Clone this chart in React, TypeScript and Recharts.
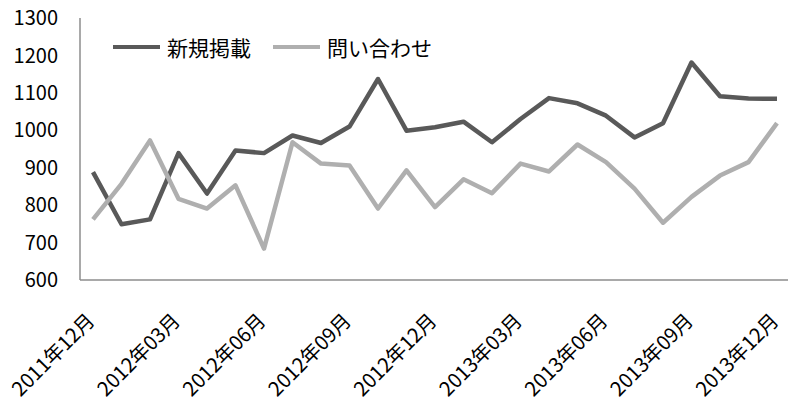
import React from 'react';
import { LineChart, Line, XAxis, YAxis, Legend } from 'recharts';

const months = [
  '2011年12月', '2012年01月', '2012年02月', '2012年03月', '2012年04月', '2012年05月',
  '2012年06月', '2012年07月', '2012年08月', '2012年09月', '2012年10月', '2012年11月',
  '2012年12月', '2013年01月', '2013年02月', '2013年03月', '2013年04月', '2013年05月',
  '2013年06月', '2013年07月', '2013年08月', '2013年09月', '2013年10月', '2013年11月',
  '2013年12月',
];

const newListings = [
  888, 749, 762, 939, 831, 946, 939, 986, 966, 1010, 1137, 999, 1008,
  1023, 968, 1030, 1086, 1072, 1039, 981, 1019, 1181, 1091, 1085, 1084,
];

const inquiries = [
  762, 857, 973, 817, 791, 853, 684, 968, 911, 906, 791, 893, 795,
  869, 832, 911, 890, 962, 915, 844, 753, 822, 879, 915, 1019,
];

const yTicks = [600, 700, 800, 900, 1000, 1100, 1200, 1300];

const DARK = '#595959';
const LIGHT = '#afafaf';
const FONT = '"Noto Sans CJK JP", "Noto Sans", sans-serif';

const data = months.map((m, i) => ({
  month: m,
  新規掲載: newListings[i],
  問い合わせ: inquiries[i],
}));

const MonthTick = (props: any) => {
  const { x, y, payload } = props;
  return (
    <g transform={`translate(${x + 3},${y + 42})`}>
      <text
        x={0}
        y={0}
        textAnchor="end"
        transform="rotate(-45)"
        fontSize={20}
        fontFamily={FONT}
        fill="#000"
      >
        {payload.value}
      </text>
    </g>
  );
};

const LegendBox = () => (
  <div style={{ display: 'flex', alignItems: 'center', fontFamily: FONT, fontSize: 21, color: '#000', lineHeight: '30px' }}>
    {[
      { name: '新規掲載', color: DARK },
      { name: '問い合わせ', color: LIGHT },
    ].map((s, i) => (
      <div key={s.name} style={{ display: 'flex', alignItems: 'center', marginRight: i === 0 ? 22 : 0 }}>
        <span style={{ display: 'inline-block', width: 47, height: 4.5, background: s.color, marginRight: 7 }} />
        <span>{s.name}</span>
      </div>
    ))}
  </div>
);

const App: React.FC = () => {
  return (
    <div style={{ position: 'absolute', left: 0, top: 0, width: 800, height: 412, background: '#fff' }}>
      <LineChart width={800} height={412} data={data} margin={{ top: 18, right: 12, left: 0, bottom: 0 }}>
        <XAxis
          dataKey="month"
          interval={2}
          height={132}
          padding={{ left: 13, right: 11 }}
          axisLine={{ stroke: '#8c8c8c', strokeWidth: 1.5 }}
          tickLine={false}
          tickSize={0}
          tickMargin={0}
          tick={<MonthTick />}
        />
        <YAxis
          width={80}
          domain={[600, 1300]}
          ticks={yTicks}
          axisLine={{ stroke: '#8c8c8c', strokeWidth: 1.5 }}
          tickLine={false}
          tickSize={0}
          tickMargin={22}
          tick={{ fontSize: 20, fontFamily: FONT, fill: '#000' }}
        />
        <Legend
          verticalAlign="middle"
          align="center"
          layout="horizontal"
          content={<LegendBox />}
          wrapperStyle={{ top: 32, left: 113, width: 'auto' }}
        />
        <Line
          type="linear"
          dataKey="新規掲載"
          stroke={DARK}
          strokeWidth={4.5}
          strokeLinejoin="round"
          dot={false}
          isAnimationActive={false}
        />
        <Line
          type="linear"
          dataKey="問い合わせ"
          stroke={LIGHT}
          strokeWidth={4.5}
          strokeLinejoin="round"
          dot={false}
          isAnimationActive={false}
        />
      </LineChart>
    </div>
  );
};

export default App;
